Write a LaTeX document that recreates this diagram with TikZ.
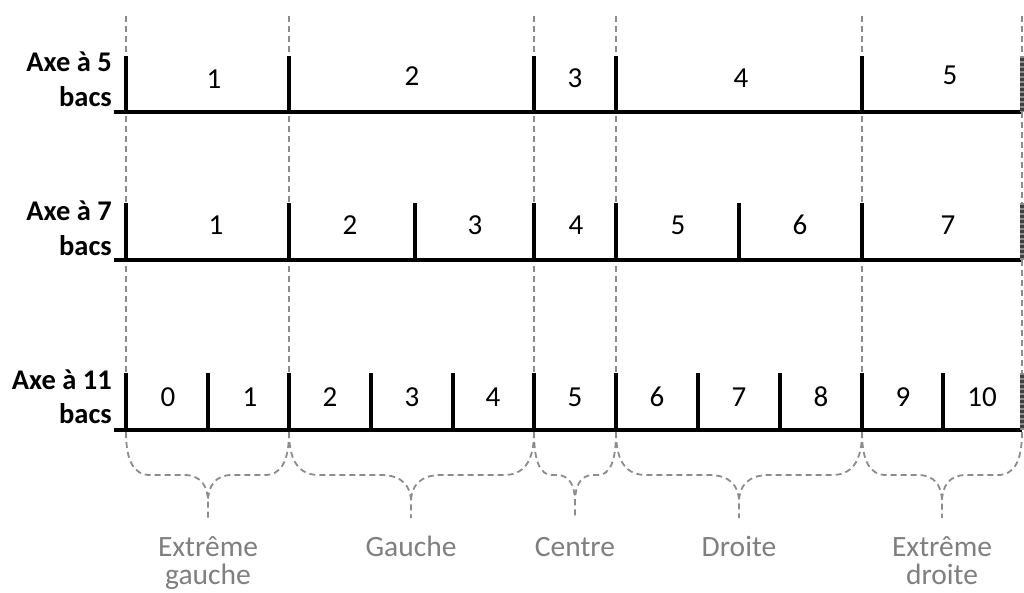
\documentclass[tikz,border=0pt]{standalone}
\usepackage{fontspec}
\setmainfont{Carlito}
\definecolor{guide}{HTML}{8C8C8C}
\definecolor{lbl}{HTML}{7F7F7F}
\tikzset{
  guideline/.style={draw=guide, line width=1.8pt, dash pattern=on 6pt off 4pt},
  axisline/.style={draw=black, line width=4pt},
  tickline/.style={draw=black, line width=4pt},
  num/.style={font=\fontsize{29}{34}\selectfont, inner sep=0pt, anchor=base},
  rowlbl/.style={font=\fontsize{28.5}{34}\selectfont\bfseries, anchor=base east, inner sep=0pt},
  catlbl/.style={font=\fontsize{29.5}{31}\selectfont, text=lbl, anchor=base, inner sep=0pt},
  bracepath/.style={draw=guide, line width=1.8pt, dash pattern=on 6pt off 4pt},
}
\newcommand\drawbrace[4]{% left, tip, right, radius
  \draw[bracepath] (#1,432) .. controls (#1,462) and (#1+#4*0.35,475) .. (#1+#4,475) -- (#2-#4,475) .. controls (#2-#4*0.3,475) and (#2,486) .. (#2,502) -- (#2,518);
  \draw[bracepath] (#3,432) .. controls (#3,462) and (#3-#4*0.35,475) .. (#3-#4,475) -- (#2+#4,475) .. controls (#2+#4*0.3,475) and (#2,486) .. (#2,502);
}
\begin{document}
\begin{tikzpicture}[x=1pt,y=-1pt]
\useasboundingbox (0,0) rectangle (1024,592);
% guide lines
\foreach \x in {126,289,534,616,862} {
  \draw[guideline] (\x,16) -- (\x,432);
}
% row 1
\coordinate (r1s) at (114,112); \coordinate (r1e) at (1022,112);
\draw[axisline] (r1s) -- (r1e);
\foreach \x in {126,289,534,616,862} { \draw[tickline] (\x,56) -- (\x,112); }
\node[rowlbl] (l5a) at (112,71) {Axe à 5};
\node[rowlbl] (l5b) at (112,106) {bacs};
\foreach \x/\t/\y in {214/1/88,412/2/85,575/3/87,741/4/87,950/5/84} { \node[num] (a\t) at (\x,\y) {\t}; }
% row 2
\coordinate (r2s) at (114,260); \coordinate (r2e) at (1022,260);
\draw[axisline] (r2s) -- (r2e);
\foreach \x in {126,289,415,534,616,739,862} { \draw[tickline] (\x,203) -- (\x,260); }
\node[rowlbl] (l7a) at (112,220) {Axe à 7};
\node[rowlbl] (l7b) at (112,255) {bacs};
\foreach \x/\t in {216/1,350/2,475/3,576/4,678/5,800/6,948/7} { \node[num] (b\t) at (\x,234) {\t}; }
% row 3
\coordinate (r3s) at (114,430); \coordinate (r3e) at (1022,430);
\draw[axisline] (r3s) -- (r3e);
\foreach \x in {126,208,289,371,453,534,616,698,780,862,943} { \draw[tickline] (\x,373) -- (\x,430); }
\node[rowlbl] (l11a) at (112,389) {Axe à 11};
\node[rowlbl] (l11b) at (112,423) {bacs};
\foreach \x/\t in {168/0,250/1,330/2,412/3,493/4,575/5,657/6,739/7,821/8,903/9,982/10} { \node[num] (c\t) at (\x,406) {\t}; }
% right edge (striped)
\draw[guideline] (1022,16) -- (1022,56);
\foreach \ya/\yb in {56/112,203/260,373/430} {
  \draw[line width=3.5pt, draw=black!75] (1022,\ya) -- (1022,\yb);
  \draw[line width=3.5pt, draw=guide, dash pattern=on 2pt off 3pt] (1022,\ya) -- (1022,\yb);
}
\draw[guideline] (1022,112) -- (1022,203);
\draw[guideline] (1022,260) -- (1022,373);
% braces
\drawbrace{126}{208}{289}{24}
\drawbrace{289}{411}{534}{30}
\drawbrace{534}{575}{616}{18}
\drawbrace{616}{739}{862}{30}
\drawbrace{862}{942}{1022}{24}
% category labels
\node[catlbl] (k1a) at (208,556) {Extrême};
\node[catlbl] (k1b) at (208,584) {gauche};
\node[catlbl] (k2) at (411,556) {Gauche};
\node[catlbl] (k3) at (575,556) {Centre};
\node[catlbl] (k4) at (739,556) {Droite};
\node[catlbl] (k5a) at (942,556) {Extrême};
\node[catlbl] (k5b) at (942,584) {droite};
\end{tikzpicture}
\end{document}
